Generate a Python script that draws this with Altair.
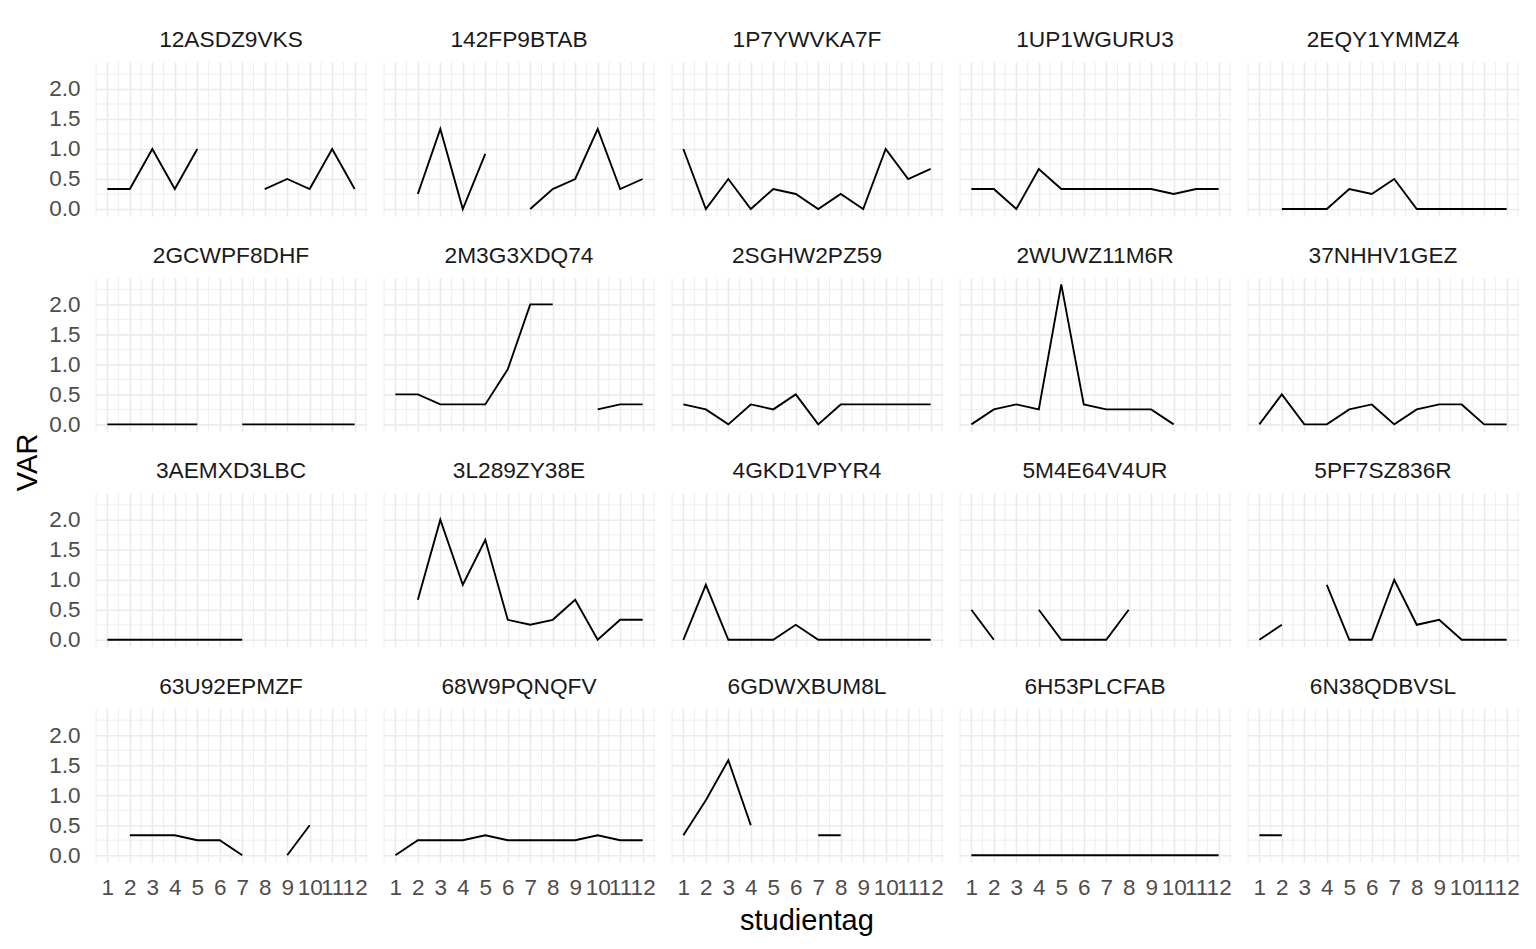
import altair as alt
import pandas as pd

N = None
studientag = list(range(1, 13))

panels = ["12ASDZ9VKS", "142FP9BTAB", "1P7YWVKA7F", "1UP1WGURU3", "2EQY1YMMZ4",
          "2GCWPF8DHF", "2M3G3XDQ74", "2SGHW2PZ59", "2WUWZ11M6R", "37NHHV1GEZ",
          "3AEMXD3LBC", "3L289ZY38E", "4GKD1VPYR4", "5M4E64V4UR", "5PF7SZ836R",
          "63U92EPMZF", "68W9PQNQFV", "6GDWXBUM8L", "6H53PLCFAB", "6N38QDBVSL"]

v_12ASDZ9VKS = [0.333, 0.333, 1.0, 0.333, 1.0, N, N, 0.333, 0.5, 0.333, 1.0, 0.333]
v_142FP9BTAB = [N, 0.25, 1.333, 0.0, 0.917, N, 0.0, 0.333, 0.5, 1.333, 0.333, 0.5]
v_1P7YWVKA7F = [1.0, 0.0, 0.5, 0.0, 0.333, 0.25, 0.0, 0.25, 0.0, 1.0, 0.5, 0.667]
v_1UP1WGURU3 = [0.333, 0.333, 0.0, 0.667, 0.333, 0.333, 0.333, 0.333, 0.333, 0.25, 0.333, 0.333]
v_2EQY1YMMZ4 = [N, 0.0, 0.0, 0.0, 0.333, 0.25, 0.5, 0.0, 0.0, 0.0, 0.0, 0.0]
v_2GCWPF8DHF = [0.0, 0.0, 0.0, 0.0, 0.0, N, 0.0, 0.0, 0.0, 0.0, 0.0, 0.0]
v_2M3G3XDQ74 = [0.5, 0.5, 0.333, 0.333, 0.333, 0.917, 2.0, 2.0, N, 0.25, 0.333, 0.333]
v_2SGHW2PZ59 = [0.333, 0.25, 0.0, 0.333, 0.25, 0.5, 0.0, 0.333, 0.333, 0.333, 0.333, 0.333]
v_2WUWZ11M6R = [0.0, 0.25, 0.333, 0.25, 2.333, 0.333, 0.25, 0.25, 0.25, 0.0, N, N]
v_37NHHV1GEZ = [0.0, 0.5, 0.0, 0.0, 0.25, 0.333, 0.0, 0.25, 0.333, 0.333, 0.0, 0.0]
v_3AEMXD3LBC = [0.0, 0.0, 0.0, 0.0, 0.0, 0.0, 0.0, N, N, N, N, N]
v_3L289ZY38E = [N, 0.667, 2.0, 0.917, 1.667, 0.333, 0.25, 0.333, 0.667, 0.0, 0.333, 0.333]
v_4GKD1VPYR4 = [0.0, 0.917, 0.0, 0.0, 0.0, 0.25, 0.0, 0.0, 0.0, 0.0, 0.0, 0.0]
v_5M4E64V4UR = [0.5, 0.0, N, 0.5, 0.0, 0.0, 0.0, 0.5, N, N, N, N]
v_5PF7SZ836R = [0.0, 0.25, N, 0.917, 0.0, 0.0, 1.0, 0.25, 0.333, 0.0, 0.0, 0.0]
v_63U92EPMZF = [N, 0.333, 0.333, 0.333, 0.25, 0.25, 0.0, N, 0.0, 0.5, N, N]
v_68W9PQNQFV = [0.0, 0.25, 0.25, 0.25, 0.333, 0.25, 0.25, 0.25, 0.25, 0.333, 0.25, 0.25]
v_6GDWXBUM8L = [0.333, 0.917, 1.583, 0.5, N, N, 0.333, 0.333, N, N, N, N]
v_6H53PLCFAB = [0.0, 0.0, 0.0, 0.0, 0.0, 0.0, 0.0, 0.0, 0.0, 0.0, 0.0, 0.0]
v_6N38QDBVSL = [0.333, 0.333, N, N, N, N, N, N, N, N, N, N]

series = [v_12ASDZ9VKS, v_142FP9BTAB, v_1P7YWVKA7F, v_1UP1WGURU3, v_2EQY1YMMZ4,
          v_2GCWPF8DHF, v_2M3G3XDQ74, v_2SGHW2PZ59, v_2WUWZ11M6R, v_37NHHV1GEZ,
          v_3AEMXD3LBC, v_3L289ZY38E, v_4GKD1VPYR4, v_5M4E64V4UR, v_5PF7SZ836R,
          v_63U92EPMZF, v_68W9PQNQFV, v_6GDWXBUM8L, v_6H53PLCFAB, v_6N38QDBVSL]

x_major = list(range(1, 13))
x_minor = [0.5, 1.5, 2.5, 3.5, 4.5, 5.5, 6.5, 7.5, 8.5, 9.5, 10.5, 11.5, 12.5]
y_major = [0.0, 0.5, 1.0, 1.5, 2.0]
y_minor = [0.25, 0.75, 1.25, 1.75, 2.25]

rows = []
for p, vals in zip(panels, series):
    seg = 0
    for t, v in zip(studientag, vals):
        if v is None:
            seg += 1
            continue
        rows.append({"panel": p, "kind": "line", "x": t, "y": v, "seg": seg})
    for gx in x_minor:
        rows.append({"panel": p, "kind": "mx", "x": gx, "y": None, "seg": -1})
    for gy in y_minor:
        rows.append({"panel": p, "kind": "my", "x": None, "y": gy, "seg": -1})
df = pd.DataFrame(rows)

FONT = "Liberation Sans, Arial, sans-serif"
GRID = "#EBEBEB"

xscale = alt.Scale(domain=[0.45, 12.55], nice=False, zero=False)
yscale = alt.Scale(domain=[-0.1167, 2.45], nice=False, zero=False)

xaxis = alt.Axis(values=x_major, format="d", title=None, grid=True,
                 gridColor=GRID, gridWidth=1.6, ticks=False, domain=False,
                 labelFontSize=22.5, labelColor="#4D4D4D", labelPadding=13,
                 labelFlush=False, labelOverlap=False, labelFont=FONT)
yaxis = alt.Axis(values=y_major, format=".1f", title=None, grid=True,
                 gridColor=GRID, gridWidth=1.6, ticks=False, domain=False,
                 labelFontSize=22.5, labelColor="#4D4D4D", labelPadding=15,
                 labelFlush=False, labelOverlap=False, labelFont=FONT)

mx = alt.Chart().mark_rule(color=GRID, strokeWidth=0.8, clip=True).encode(
    x=alt.X("x:Q", scale=xscale, axis=xaxis)
).transform_filter("datum.kind == 'mx'")

my = alt.Chart().mark_rule(color=GRID, strokeWidth=0.8, clip=True).encode(
    y=alt.Y("y:Q", scale=yscale, axis=yaxis)
).transform_filter("datum.kind == 'my'")

line = alt.Chart().mark_line(color="black", strokeWidth=1.9, clip=True).encode(
    x=alt.X("x:Q", scale=xscale, axis=xaxis),
    y=alt.Y("y:Q", scale=yscale, axis=yaxis),
    detail="seg:N",
    order="x:Q",
).transform_filter("datum.kind == 'line'")

layered = alt.layer(mx, my, line, data=df).properties(width=272, height=154)

facet = layered.facet(
    facet=alt.Facet("panel:N", sort=panels,
                    header=alt.Header(title=None, labelFontSize=22.7, labelColor="#1A1A1A",
                                      labelFont=FONT, labelPadding=10)),
    columns=5,
    spacing={"row": 28.4, "column": 16},
).properties(
    title=alt.TitleParams("studientag", orient="bottom", anchor="middle",
                          fontSize=29, font=FONT, fontWeight="normal", color="black",
                          offset=8, dx=23)
)

chart = alt.vconcat(facet).properties(
    title=alt.TitleParams("VAR", orient="left", anchor="middle",
                          fontSize=29, font=FONT, fontWeight="normal", color="black",
                          offset=6, dx=20),
    padding={"left": 5, "top": 21, "right": 5, "bottom": 5},
).configure(background="white").configure_view(stroke=None)

chart.save("out.html", embed_options={"renderer": "svg", "actions": False})
